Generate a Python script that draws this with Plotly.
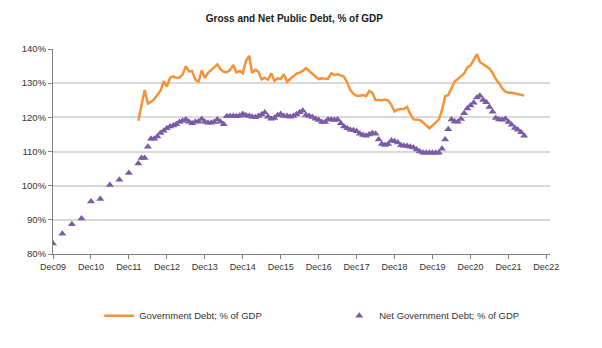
import pandas as pd
import plotly.graph_objects as go

# Gross government debt, % of GDP, monthly from Mar 2012
gross_start = "2012-03-01"
gross_debt = [
    119.0, 123.5, 128.0, 124.0, 124.5, 125.3, 126.5, 127.8, 130.6, 129.0,
    131.6, 132.0, 131.5, 131.7, 132.5, 135.0, 133.5, 133.5, 131.0, 130.4,
    133.7, 131.5, 133.0, 134.0, 134.6, 135.5, 134.1, 133.3, 133.2, 133.9,
    135.3, 133.1, 133.6, 132.9, 136.5, 138.0, 133.0, 133.9, 133.4, 131.1,
    131.6, 131.0, 132.9, 130.7, 131.4, 131.2, 132.6, 130.4, 131.2, 132.2,
    132.8, 133.1, 133.6, 134.4, 133.5, 132.6, 131.9, 131.2, 131.4, 131.3,
    131.3, 132.9, 132.4, 132.6, 132.3, 131.9, 130.2, 128.0, 126.9, 126.3,
    126.3, 126.5, 126.2, 127.7, 127.2, 125.1, 125.1, 125.0, 125.2, 124.9,
    123.6, 121.7, 122.3, 122.4, 122.5, 123.0, 120.9, 119.4, 119.3, 119.2,
    118.5, 117.6, 116.8, 117.6, 118.6, 119.4, 122.0, 126.2, 126.5, 128.8,
    130.5, 131.2, 132.1, 132.9, 134.6, 135.2, 136.8, 138.5, 136.2, 135.5,
    135.0, 134.3, 133.0, 131.2, 130.0, 128.5, 127.5, 127.2, 127.2, 127.0,
    126.8, 126.6, 126.4,
]

# Net government debt, % of GDP: quarterly Dec 2009 - Mar 2012, then monthly
net_q_start = "2009-12-01"
net_debt_quarterly = [83.1, 85.9, 88.7, 90.4, 95.4, 96.1, 100.2, 101.7, 103.7, 106.5]
net_m_start = "2012-04-01"
net_debt_monthly = [
    108.1, 108.1, 111.4, 113.7, 113.7, 114.4, 115.4, 116.1, 116.8, 117.3,
    117.6, 118.0, 118.6, 119.0, 119.4, 118.7, 118.3, 118.7, 118.8, 119.5,
    118.7, 118.4, 118.4, 118.6, 119.4, 118.7, 118.0, 120.3, 120.4, 120.4,
    120.3, 120.5, 121.0, 120.6, 120.4, 120.2, 120.0, 120.4, 120.8, 121.4,
    120.2, 119.6, 119.8, 120.6, 121.0, 120.4, 120.4, 120.2, 120.4, 120.9,
    121.5, 121.9, 120.7, 120.4, 120.1, 119.6, 119.2, 118.6, 118.6, 119.4,
    119.4, 119.2, 119.4, 118.3, 117.3, 116.8, 116.4, 116.2, 115.9, 115.2,
    114.8, 114.6, 115.0, 115.4, 115.2, 113.5, 112.2, 111.9, 112.2, 113.2,
    113.0, 112.6, 111.8, 111.7, 111.6, 111.4, 111.2, 110.6, 110.0, 109.6,
    109.6, 109.6, 109.6, 109.6, 109.6, 110.8, 113.5, 116.5, 119.4, 118.8,
    118.7, 119.5, 121.2, 122.6, 123.5, 124.3, 125.8, 126.3, 125.1, 124.4,
    123.0, 121.6, 119.8, 119.4, 119.3, 119.6, 118.6, 117.8, 116.9, 116.4,
    115.6, 114.6,
]

gross_dates = pd.date_range(gross_start, periods=len(gross_debt), freq="MS")
net_dates = list(pd.date_range(net_q_start, periods=len(net_debt_quarterly), freq="3MS")) + \
    list(pd.date_range(net_m_start, periods=len(net_debt_monthly), freq="MS"))
net_values = net_debt_quarterly + net_debt_monthly

ORANGE = "#F79239"
PURPLE = "#7A5BA6"
FONT = "Liberation Sans, Arial, sans-serif"

fig = go.Figure()
fig.add_trace(go.Scatter(
    x=gross_dates, y=gross_debt, mode="lines",
    name="Government Debt; % of GDP",
    line=dict(color=ORANGE, width=2.5),
))
fig.add_trace(go.Scatter(
    x=net_dates, y=net_values, mode="markers",
    name="Net Government Debt; % of GDP",
    marker=dict(symbol="triangle-up", color=PURPLE, size=7, line=dict(width=0)),
))

fig.update_layout(
    width=602, height=348,
    margin=dict(l=53, r=52, t=49, b=94),
    paper_bgcolor="white", plot_bgcolor="white",
    font=dict(family=FONT, size=9.5, color="#333333"),
    title=dict(
        text="<b>Gross and Net Public Debt, % of GDP</b>",
        x=0.489, xanchor="center", y=0.948, yanchor="middle",
        font=dict(family=FONT, size=10, color="#1a1a1a"),
    ),
    showlegend=True,
    legend=dict(
        orientation="h", x=0.093, xanchor="left", y=-0.23, yanchor="top",
        font=dict(family=FONT, size=9.5, color="#333333"),
        entrywidth=195, itemwidth=30,
        bgcolor="rgba(0,0,0,0)",
    ),
)

fig.update_xaxes(
    type="date",
    range=["2009-12-01", "2023-01-05"],
    tick0="2009-12-01", dtick="M12", tickformat="Dec%y",
    showgrid=False, zeroline=False,
    showline=True, linecolor="#7f7f7f", linewidth=1,
    ticks="outside", ticklen=4, tickcolor="#7f7f7f",
    tickfont=dict(family=FONT, size=9, color="#333333"),
)
fig.update_yaxes(
    range=[80, 140], dtick=10, ticksuffix="%",
    showgrid=True, gridcolor="#d9d9d9", gridwidth=1.5,
    zeroline=False,
    showline=True, linecolor="#7f7f7f", linewidth=1,
    ticks="outside", ticklen=4, tickcolor="#7f7f7f",
    tickfont=dict(family=FONT, size=9.5, color="#333333"),
)

fig.write_html("out.html")
